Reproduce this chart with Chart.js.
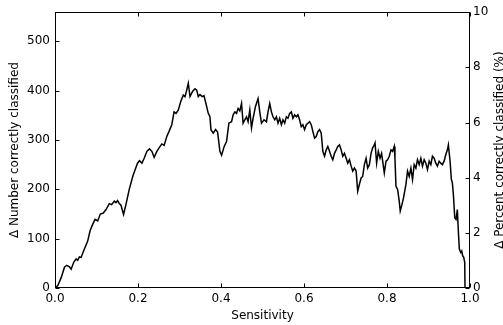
<!DOCTYPE html>
<html>
<head>
<meta charset="utf-8">
<script src="https://cdn.jsdelivr.net/npm/chart.js@4/dist/chart.umd.min.js"></script>
<style>
html,body{margin:0;padding:0;background:#fff;}
#wrap{width:503px;height:325px;}
</style>
</head>
<body>
<div id="wrap"><canvas id="c" width="503" height="325"></canvas></div>
<script>
const sensitivity = [
0, 0.0067, 0.0149, 0.0228, 0.0283, 0.0348, 0.0389, 0.0451, 0.0509, 0.0547,
0.0588, 0.0629, 0.0708, 0.0788, 0.0845, 0.0908, 0.0965, 0.1028, 0.1092, 0.1164,
0.1229, 0.1309, 0.1364, 0.1429, 0.1469, 0.1508, 0.1549, 0.1589, 0.1652, 0.1709,
0.1789, 0.1880, 0.1933, 0.1988, 0.2036, 0.2094, 0.2149, 0.2214, 0.2276, 0.2334,
0.2389, 0.2454, 0.2516, 0.2574, 0.2629, 0.2694, 0.2756, 0.2814, 0.2869, 0.2917,
0.2972, 0.3030, 0.3092, 0.3133, 0.3174, 0.3212, 0.3253, 0.3318, 0.3373, 0.3414,
0.3453, 0.3493, 0.3549, 0.3589, 0.3637, 0.3693, 0.3733, 0.3758, 0.3813, 0.3870,
0.3918, 0.3974, 0.4014, 0.4077, 0.4134, 0.4190, 0.4254, 0.4293, 0.4334, 0.4375,
0.4413, 0.4454, 0.4495, 0.4533, 0.4574, 0.4615, 0.4653, 0.4694, 0.4735, 0.4773,
0.4831, 0.4893, 0.4934, 0.4975, 0.5037, 0.5095, 0.5133, 0.5174, 0.5215, 0.5253,
0.5294, 0.5335, 0.5373, 0.5414, 0.5455, 0.5493, 0.5534, 0.5575, 0.5613, 0.5654,
0.5695, 0.5733, 0.5774, 0.5815, 0.5853, 0.5894, 0.5935, 0.5974, 0.6014, 0.6055,
0.6094, 0.6134, 0.6175, 0.6214, 0.6255, 0.6295, 0.6334, 0.6375, 0.6415, 0.6454,
0.6495, 0.6535, 0.6574, 0.6615, 0.6655, 0.6694, 0.6735, 0.6776, 0.6814, 0.6855,
0.6896, 0.6934, 0.6975, 0.7016, 0.7054, 0.7095, 0.7136, 0.7174, 0.7215, 0.7256,
0.7294, 0.7335, 0.7376, 0.7414, 0.7455, 0.7496, 0.7534, 0.7575, 0.7616, 0.7654,
0.7695, 0.7712, 0.7750, 0.7791, 0.7832, 0.7870, 0.7935, 0.7976, 0.8014, 0.8055,
0.8096, 0.8134, 0.8175, 0.8192, 0.8216, 0.8255, 0.8295, 0.8319, 0.8360, 0.8399,
0.8456, 0.8495, 0.8535, 0.8576, 0.8615, 0.8655, 0.8696, 0.8735, 0.8776, 0.8816,
0.8855, 0.8896, 0.8936, 0.8975, 0.9016, 0.9056, 0.9095, 0.9136, 0.9176, 0.9215,
0.9256, 0.9296, 0.9335, 0.9376, 0.9416, 0.9455, 0.9479, 0.9520, 0.9551, 0.9575,
0.9599, 0.9633, 0.9664, 0.9695, 0.9719, 0.9743, 0.9777, 0.9801, 0.9825, 0.9849,
0.9873, 0.9880
];
const deltaCorrect = [
0, 5, 21, 42, 46, 43, 38, 52, 59, 56,
63, 62, 79, 95, 116, 129, 139, 136, 150, 152,
159, 171, 169, 176, 173, 177, 171, 168, 149, 169,
200, 228, 240, 253, 258, 253, 263, 277, 282, 277,
265, 277, 285, 292, 289, 307, 319, 331, 357, 354,
361, 378, 391, 388, 401, 415, 388, 399, 404, 401,
388, 392, 388, 390, 374, 354, 347, 321, 314, 321,
316, 277, 269, 287, 297, 334, 337, 351, 357, 354,
364, 359, 374, 334, 341, 347, 337, 361, 324, 344,
368, 384, 357, 334, 341, 337, 357, 374, 357, 347,
341, 347, 334, 344, 331, 341, 334, 347, 344, 354,
357, 344, 351, 347, 351, 341, 327, 331, 321, 331,
334, 337, 331, 317, 304, 307, 317, 321, 314, 277,
267, 280, 287, 277, 267, 260, 273, 280, 287, 290,
280, 267, 273, 263, 253, 260, 247, 237, 243, 237,
196, 210, 223, 226, 250, 263, 243, 250, 273, 284,
290, 294, 253, 277, 263, 273, 233, 257, 260, 267,
280, 277, 287, 263, 206, 200, 176, 156, 169, 183,
210, 237, 226, 243, 220, 250, 243, 260, 250, 263,
247, 260, 253, 240, 257, 250, 267, 263, 253, 247,
257, 253, 250, 257, 270, 280, 290, 257, 220, 213,
190, 142, 139, 159, 116, 79, 72, 75, 65, 62,
52, 0
];
const xTicks = [0, 0.2, 0.4, 0.6, 0.8, 1.0];
const leftTicks = [0, 100, 200, 300, 400, 500];
const rightTicks = [0, 2, 4, 6, 8, 10];
const leftMax = 559;   // count corresponding to 10 %
const rightMax = 10;
const xTitle = 'Sensitivity';
const leftTitle = 'Δ Number correctly classified';
const rightTitle = 'Δ Percent correctly classified (%)';

const FONT = "'DejaVu Sans', sans-serif";
Chart.defaults.font.family = FONT;
Chart.defaults.font.size = 12;
Chart.defaults.color = '#000';

const framePlugin = {
  id: 'frame',
  afterDraw(chart) {
    const {ctx, chartArea: a, scales} = chart;
    ctx.save();
    ctx.strokeStyle = '#000';
    ctx.lineWidth = 1;
    const L = Math.round(a.left) + 0.5, R = Math.round(a.right) - 0.5;
    const T = Math.round(a.top) + 0.5, B = Math.round(a.bottom) - 0.5;
    ctx.strokeRect(L, T, R - L, B - T);
    const tl = 4;
    ctx.beginPath();
    scales.x.ticks.forEach(t => {
      const p = Math.round(scales.x.getPixelForValue(t.value)) + 0.5;
      ctx.moveTo(p, B); ctx.lineTo(p, B - tl);
      ctx.moveTo(p, T); ctx.lineTo(p, T + tl);
    });
    scales.y.ticks.forEach(t => {
      const p = Math.round(scales.y.getPixelForValue(t.value)) + 0.5;
      ctx.moveTo(L, p); ctx.lineTo(L + tl, p);
    });
    scales.y2.ticks.forEach(t => {
      const p = Math.round(scales.y2.getPixelForValue(t.value)) + 0.5;
      ctx.moveTo(R, p); ctx.lineTo(R - tl, p);
    });
    ctx.stroke();
    // right axis title, reading bottom-to-top like the left one
    ctx.fillStyle = '#000';
    ctx.font = '12px ' + FONT;
    ctx.translate(500, (a.top + a.bottom) / 2);
    ctx.rotate(-Math.PI / 2);
    ctx.textAlign = 'center';
    ctx.textBaseline = 'middle';
    ctx.fillText(rightTitle, 0, 0);
    ctx.restore();
  }
};

new Chart(document.getElementById('c'), {
  type: 'line',
  data: {
    datasets: [{
      data: sensitivity.map((x, i) => ({x: x, y: deltaCorrect[i]})),
      borderColor: '#000',
      borderWidth: 1.5,
      pointRadius: 0,
      tension: 0,
      fill: false,
      yAxisID: 'y'
    }]
  },
  options: {
    responsive: false,
    devicePixelRatio: 1,
    animation: false,
    layout: {padding: {top: 10, left: 0, right: 0, bottom: 0}},
    plugins: {legend: {display: false}, tooltip: {enabled: false}},
    scales: {
      x: {
        type: 'linear', min: 0, max: 1,
        afterBuildTicks: s => { s.ticks = xTicks.map(v => ({value: v})); },
        ticks: {padding: 4, maxRotation: 0, callback: v => Number(v).toFixed(1)},
        grid: {display: false, drawTicks: false},
        border: {display: false},
        title: {display: true, text: xTitle, padding: {top: 0, bottom: 2}},
        afterFit: s => { s.height = 37; }
      },
      y: {
        type: 'linear', position: 'left', min: 0, max: leftMax,
        afterBuildTicks: s => { s.ticks = leftTicks.map(v => ({value: v})); },
        ticks: {padding: 5},
        grid: {display: false, drawTicks: false},
        border: {display: false},
        title: {display: true, text: leftTitle, padding: {top: 8, bottom: 0}},
        afterFit: s => { s.width = 55; }
      },
      y2: {
        type: 'linear', position: 'right', min: 0, max: rightMax,
        afterBuildTicks: s => { s.ticks = rightTicks.map(v => ({value: v})); },
        ticks: {padding: 3},
        grid: {display: false, drawTicks: false},
        border: {display: false},
        afterFit: s => { s.width = 33; }
      }
    }
  },
  plugins: [framePlugin]
});
</script>
</body>
</html>
